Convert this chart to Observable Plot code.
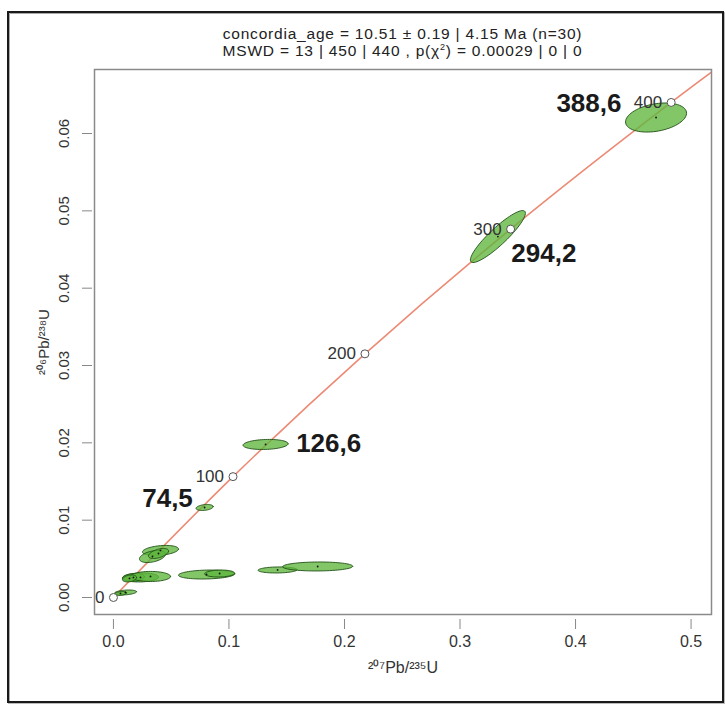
<!DOCTYPE html>
<html>
<head>
<meta charset="utf-8">
<script src="https://cdn.jsdelivr.net/npm/d3@7"></script>
<script src="https://cdn.jsdelivr.net/npm/@observablehq/plot@0.6"></script>
<style>
  html, body { margin: 0; padding: 0; background: #fff; }
  #wrap { position: relative; width: 725px; height: 704px; overflow: hidden; font-family: "Liberation Sans", Arial, sans-serif; }
  #border { position: absolute; left: 7px; top: 11px; width: 713px; height: 688px; border: 2px solid #1a1a1a; box-shadow: inset 1px 1px 0 #aaa, 1px 1px 0 #bbb; }
  #title { position: absolute; left: 94px; width: 617px; top: 25px; text-align: center; font-size: 15.5px; letter-spacing: 0.8px; line-height: 17px; color: #222; }
  #title sup { font-size: 9px; line-height: 0; }
  #chart { position: absolute; left: 0; top: 50px; }
</style>
</head>
<body>
<div id="wrap">
  <div id="border"></div>
  <div id="chart"></div>
  <div id="title">concordia_age = 10.51 ± 0.19 | 4.15 Ma (n=30)<br>MSWD = 13 | 450 | 440 , p(χ<sup>2</sup>) = 0.00029 | 0 | 0</div>
</div>
<script>
// Concordia reference ages (Ma) and their coordinates
const concAge = [0, 100, 200, 300, 400];
const concX = [0, 0.1035, 0.2177, 0.3438, 0.4828];
const concY = [0, 0.01563, 0.03151, 0.04764, 0.06402];
// concordia curve trace (extends past 400 Ma to the frame corner)
const lineX = [0, 0.1035, 0.2177, 0.3438, 0.4828, 0.5424];
const lineY = [0, 0.01563, 0.03151, 0.04764, 0.06402, 0.07064];

// Error ellipses: centre, half-extent in x and y, correlation
const ellX   = [0.0407, 0.0338, 0.0390, 0.0234, 0.0173, 0.0321, 0.0139, 0.0104, 0.0061, 0.0806, 0.0919, 0.1421, 0.1768, 0.0789, 0.1317, 0.3328, 0.4697];
const ellY   = [0.00608, 0.00530, 0.00569, 0.00259, 0.00259, 0.00272, 0.00246, 0.00065, 0.00052, 0.00297, 0.00310, 0.00356, 0.00401, 0.01164, 0.01979, 0.04668, 0.06207];
const ellSX  = [0.0156, 0.0113, 0.0087, 0.0156, 0.0095, 0.0173, 0.0061, 0.0095, 0.0052, 0.0243, 0.0130, 0.0169, 0.0303, 0.0074, 0.0195, 0.0238, 0.0264];
const ellSY  = [0.00065, 0.00078, 0.00065, 0.00058, 0.00052, 0.00065, 0.00045, 0.00032, 0.00026, 0.00058, 0.00045, 0.00039, 0.00058, 0.00039, 0.00065, 0.00336, 0.00188];
const ellRho = [0.3, 0.4, 0.5, 0.1, 0.2, 0.0, 0.3, 0.3, 0.3, 0.15, 0.1, 0.1, 0.05, 0.3, 0.15, 0.9, 0.3];

// Bold age annotations
const annotText = ["388,6", "294,2", "126,6", "74,5"];
const annotX = [0.4116, 0.3726, 0.1863, 0.0468];
const annotY = [0.0639, 0.0445, 0.0199, 0.0128];

// Axis ticks
const xTicks = [0, 0.1, 0.2, 0.3, 0.4, 0.5];
const yTicks = [0, 0.01, 0.02, 0.03, 0.04, 0.05, 0.06];

// build tables
const concPts = concAge.map((a, i) => ({age: a, x: concX[i], y: concY[i]}));
const linePts = lineX.map((x, i) => ({x, y: lineY[i]}));
const ellCentres = ellX.map((x, i) => ({id: i, x, y: ellY[i]}));
const ellOutline = [];
const N = 72;
ellX.forEach((cx, i) => {
  const r = ellRho[i], q = Math.sqrt(1 - r * r);
  for (let k = 0; k < N; k++) {
    const t = 2 * Math.PI * k / N;
    ellOutline.push({id: i, x: cx + ellSX[i] * Math.cos(t), y: ellY[i] + ellSY[i] * (r * Math.cos(t) + q * Math.sin(t))});
  }
});
const annots = annotText.map((t, i) => ({t, x: annotX[i], y: annotY[i]}));

const chart = Plot.plot({
  width: 725,
  height: 650,
  marginLeft: 94,
  marginRight: 14,
  marginTop: 19,
  marginBottom: 86,
  style: {fontFamily: "'Liberation Sans', Arial, sans-serif", fontSize: "15px", color: "#333", background: "transparent"},
  x: {domain: [-0.0164, 0.5177]},
  y: {domain: [-0.0022, 0.06828]},
  marks: [
    Plot.line(linePts, {x: "x", y: "y", stroke: "#ec8a74", strokeWidth: 1.6, curve: "catmull-rom", clip: true}),
    Plot.line(ellOutline, {x: "x", y: "y", z: "id", curve: "linear-closed", fill: "#5fb63d", fillOpacity: 0.78, stroke: "#1f4f14", strokeWidth: 0.9}),
    Plot.dot(ellCentres, {x: "x", y: "y", r: 0.9, fill: "#111"}),
    Plot.dot(concPts, {x: "x", y: "y", r: 4, stroke: "#555", strokeWidth: 1, fill: "white"}),
    Plot.text(concPts, {x: "x", y: "y", text: d => String(d.age), textAnchor: "end", dx: -9, fontSize: 17, fill: "#333"}),
    Plot.text(annots, {x: "x", y: "y", text: "t", fontSize: 26, fontWeight: "bold", fill: "#1a1a1a"}),
    Plot.frame({stroke: "#8a8a8a", strokeWidth: 1.5}),
    Plot.axisX({ticks: xTicks, tickFormat: d3.format(".1f"), tickSize: 10, tickPadding: 6, dy: 5, stroke: "#888", fill: "#333", fontSize: 16,
      label: "²⁰⁷Pb/²³⁵U", labelAnchor: "center", labelArrow: "none", labelOffset: 58}),
    Plot.axisY({ticks: yTicks, tickFormat: d3.format(".2f"), tickSize: 10, tickPadding: 14, tickRotate: -90, dx: -2, stroke: "#888", fill: "#333", fontSize: 15,
      label: "²⁰⁶Pb/²³⁸U", labelAnchor: "center", labelArrow: "none", labelOffset: 56})
  ]
});
document.getElementById("chart").appendChild(chart);
</script>
</body>
</html>
